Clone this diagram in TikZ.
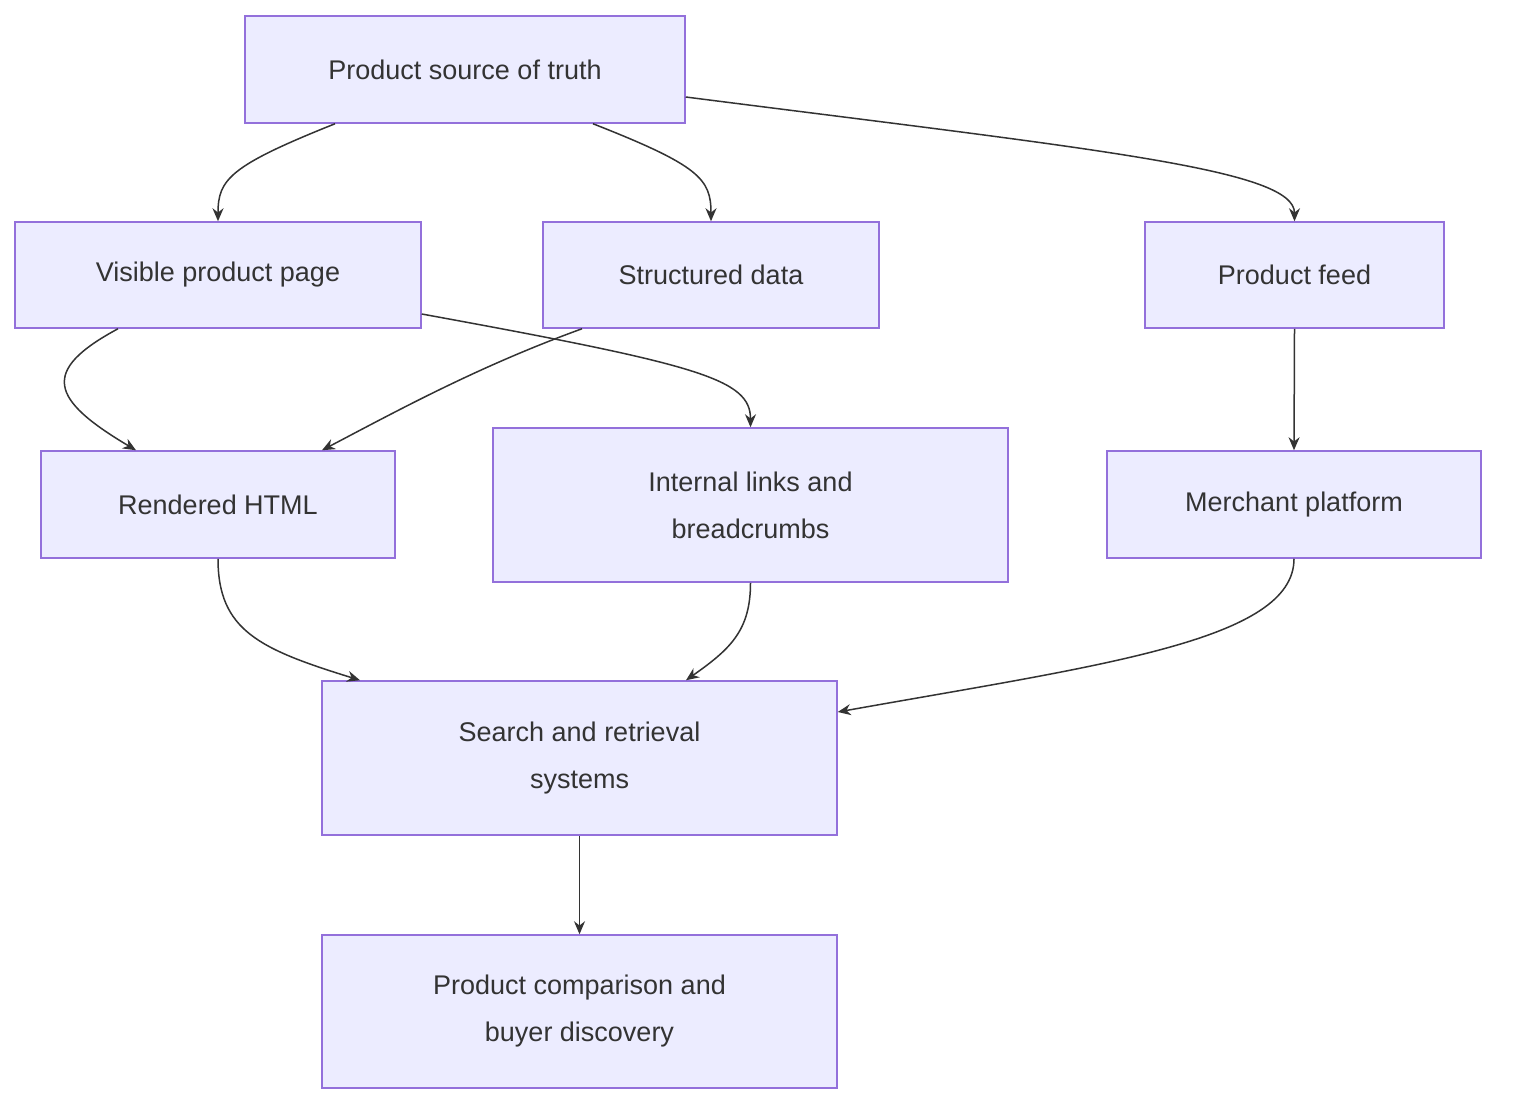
\documentclass[tikz,border=0pt]{standalone}
\usepackage{fontspec}
\setmainfont{Liberation Sans}
\usetikzlibrary{arrows.meta}
\definecolor{bfill}{HTML}{ECECFF}
\definecolor{bdraw}{HTML}{9370DB}
\definecolor{ink}{HTML}{333333}
\begin{document}
\begin{tikzpicture}[x=1pt,y=-1pt,
 box/.style={draw=bdraw,fill=bfill,line width=1.5pt,text=ink,font=\fontsize{27}{47}\selectfont,align=center,inner sep=0pt},
 e/.style={draw=ink,line width=1.5pt,-{Stealth[length=13pt,width=11pt]}}]
\useasboundingbox (0,0) rectangle (1514,1116);
\fill[white] (0,0) rectangle (1514,1116);
\newcommand{\bx}[6]{\node[box,minimum width=#4-#2,minimum height=#5-#3] (#1) at ({(#2+#4)/2},{(#3+#5)/2}) {#6};}
\bx{src}{245}{16}{685}{123}{Product source of truth}
\bx{vis}{15}{222}{421}{328}{Visible product page}
\bx{struct}{543}{222}{879}{328}{Structured data}
\bx{feed}{1145}{222}{1444}{328}{Product feed}
\bx{html}{41}{451}{395}{558}{Rendered HTML}
\bx{links}{493}{428}{1008}{582}{Internal links and\\ breadcrumbs}
\bx{merch}{1107}{451}{1481}{558}{Merchant platform}
\bx{search}{322}{681}{837}{835}{Search and retrieval\\ systems}
\bx{comp}{322}{935}{837}{1088}{Product comparison and\\ buyer discovery}
\draw[e] ([xshift=-130pt]src.south) .. controls +(-105,42) and +(0,-42) .. (vis.north);
\draw[e] ([xshift=128pt]src.south) .. controls +(107,42) and +(0,-42) .. (struct.north);
\draw[e] ([yshift=-27.5pt]src.east) .. controls +(415,53) and +(0,-52) .. (feed.north);
\draw[e] ([xshift=-100pt]vis.south) .. controls +(-78,42) and +(-86,-51) .. ([xshift=-82pt]html.north);
\draw[e] ([xshift=-129pt]struct.south) .. controls +(-102,37) and +(78,-41) .. ([xshift=104pt]html.north);
\draw[e] ([yshift=-39pt]vis.east) .. controls +(279,51) and +(0,-48) .. (links.north);
\draw[e] (feed.south) -- (merch.north);
\draw[e] (html.south) .. controls +(0,72) and +(-100,-31) .. ([xshift=-219.5pt]search.north);
\draw[e] (links.south) .. controls +(0,48) and +(44,-31) .. ([xshift=106.5pt]search.north);
\draw[e] (merch.south) .. controls +(0,82) and +(263,-47) .. ([yshift=46pt]search.east);
\draw[e] (search.south) -- (comp.north);
\end{tikzpicture}
\end{document}
